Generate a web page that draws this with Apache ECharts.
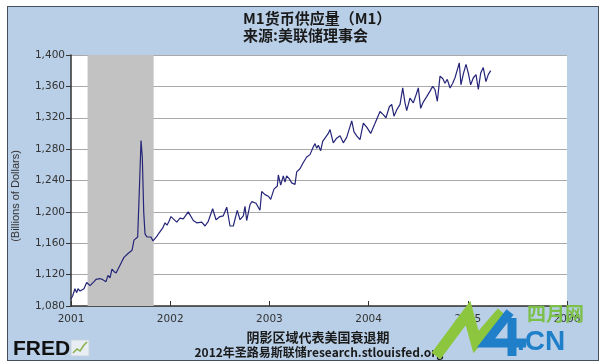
<!DOCTYPE html>
<html>
<head>
<meta charset="utf-8">
<script src="https://cdn.jsdelivr.net/npm/echarts@6/dist/echarts.min.js"></script>
<style>
html,body{margin:0;padding:0;background:#fff;}
#frame{position:absolute;left:7px;top:6px;width:590px;height:353px;background:#b9cfe7;border:1px solid #45505c;}
#chart{position:absolute;left:0;top:0;width:600px;height:364px;}
</style>
</head>
<body>
<div id="frame"></div>
<div id="chart"></div>
<script>
const years = [
2001.000,2001.017,2001.040,2001.057,2001.071,2001.091,2001.111,2001.131,2001.158,2001.171,
2001.192,2001.212,2001.232,2001.252,2001.272,2001.292,2001.313,2001.333,2001.353,2001.373,
2001.393,2001.413,2001.433,2001.454,2001.474,2001.494,2001.514,2001.534,2001.554,2001.575,
2001.595,2001.615,2001.635,2001.645,2001.655,2001.672,2001.691,2001.706,2001.719,2001.733,
2001.746,2001.766,2001.786,2001.806,2001.827,2001.847,2001.867,2001.887,2001.907,2001.927,
2001.948,2001.968,2001.988,2002.008,2002.028,
2002.066,2002.099,2002.132,2002.182,2002.233,2002.267,2002.318,2002.351,2002.384,2002.428,
2002.462,2002.502,2002.535,2002.570,2002.603,2002.636,2002.676,2002.704,2002.737,2002.754,
2002.771,2002.804,2002.822,2002.865,2002.905,2002.922,2002.956,2002.989,2003.013,2003.046,
2003.080,2003.090,2003.114,2003.140,2003.157,2003.174,2003.201,2003.225,2003.258,2003.275,
2003.308,2003.342,2003.376,2003.409,2003.443,2003.460,2003.477,2003.493,2003.517,2003.537,
2003.560,2003.577,2003.594,2003.611,2003.628,2003.644,2003.678,2003.712,2003.745,2003.779,
2003.830,2003.853,2003.880,2003.913,2003.947,2003.981,2004.021,2004.065,2004.082,2004.115,
2004.148,2004.175,2004.209,2004.233,2004.256,2004.283,2004.317,2004.344,2004.367,2004.384,
2004.417,2004.451,2004.478,2004.501,2004.525,2004.551,2004.586,2004.619,2004.646,2004.669,
2004.693,2004.720,2004.747,2004.770,2004.793,2004.821,2004.848,2004.871,2004.894,2004.914,
2004.931,2004.955,2004.982,2005.005,2005.029,2005.056,2005.083,2005.106,2005.130,2005.156,
2005.183,2005.206,2005.231
];
// M1 money stock, billions of dollars
const m1 = [
1089,1093,1102,1097,1102,1099,1100,1102,1110,1108,
1106,1106,1111,1114,1113,1115,1114,1116,1111,1119,
1116,1127,1124,1122,1124,1132,1137,1142,1140,1147,
1149,1151,1164,1162,1166,1168,1235,1291,1269,1200,
1172,1168,1166,1168,1163,1165,1169,1173,1175,1180,
1186,1183,1188,1194,1196,
1187,1192,1191,1200,1189,1186,1187,1182,1188,1204,
1190,1194,1195,1206,1182,1182,1202,1190,1195,1207,
1189,1209,1213,1211,1202,1226,1222,1220,1216,1229,
1233,1247,1234,1246,1238,1246,1242,1237,1235,1251,
1255,1263,1270,1273,1283,1287,1281,1285,1278,1290,
1294,1292,1300,1305,1296,1288,1294,1297,1288,1295,
1316,1302,1297,1292,1313,1308,1300,1313,1315,1328,
1324,1320,1334,1337,1322,1330,1337,1358,1339,1329,
1345,1339,1349,1358,1332,1340,1347,1354,1360,1356,
1341,1373,1370,1364,1369,1358,1364,1371,1381,1390,
1362,1376,1388,1377,1362,1371,1375,1356,1377,1384,
1366,1375,1380
];
// Recession (NBER): March 2001 – November 2001
const recessionStart = 2001.167;
const recessionEnd = 2001.833;
const yTicks = {min: 1080, max: 1400, step: 40};
const xTicks = {min: 2001, max: 2006, step: 1};

const titleLine1 = 'M1货币供应量（M1）';
const titleLine2 = '来源:美联储理事会';
const yName = '(Billions of Dollars)';
const footer1 = '阴影区域代表美国衰退期';
const footer2 = '2012年圣路易斯联储research.stlouisfed.org';

const cjk = '"Noto Sans CJK SC", sans-serif';
const chart = echarts.init(document.getElementById('chart'), null, {renderer: 'canvas'});
chart.setOption({
  animation: false,
  backgroundColor: 'transparent',
  grid: {left: 71, right: 33, top: 55, bottom: 58, show: true, backgroundColor: '#ffffff', borderWidth: 0},
  xAxis: {
    type: 'value', min: xTicks.min, max: xTicks.max, interval: xTicks.step,
    axisLine: {show: true, lineStyle: {color: '#333', width: 1.5}},
    axisTick: {show: true, inside: true, length: 5, lineStyle: {color: '#333'}},
    axisLabel: {formatter: v => String(v), color: '#333', fontFamily: '"DejaVu Sans"', fontSize: 10.5, margin: 8},
    splitLine: {show: false}
  },
  yAxis: {
    type: 'value', min: yTicks.min, max: yTicks.max, interval: yTicks.step,
    axisLine: {show: true, lineStyle: {color: '#333', width: 1.5}},
    axisTick: {show: true, inside: false, length: 5, lineStyle: {color: '#333'}},
    axisLabel: {color: '#333', fontFamily: '"DejaVu Sans"', fontSize: 10.5, margin: 6},
    splitLine: {show: true, lineStyle: {color: '#a9a9a9', width: 1}}
  },
  series: [{
    type: 'line',
    data: years.map((y, i) => [y, m1[i]]),
    showSymbol: false,
    symbol: 'none',
    lineStyle: {color: '#25257a', width: 1.2},
    markArea: {
      silent: true,
      itemStyle: {color: '#c2c2c2', opacity: 1},
      data: [[{xAxis: recessionStart}, {xAxis: recessionEnd}]]
    },
    z: 3
  }],
  graphic: [
    {type: 'text', left: 243, top: 11, style: {text: titleLine1, font: 'bold 15px ' + cjk, fill: '#1a1a1a'}},
    {type: 'text', left: 243, top: 28, style: {text: titleLine2, font: 'bold 15px ' + cjk, fill: '#1a1a1a'}},
    {type: 'text', x: 16, y: 196, rotation: Math.PI / 2,
      style: {text: yName, font: '11px "Liberation Sans"', fill: '#333', align: 'center', verticalAlign: 'middle'}},
    {type: 'text', x: 318, y: 337, style: {text: footer1, font: 'bold 13px ' + cjk, fill: '#1a1a1a', align: 'center', verticalAlign: 'middle'}},
    {type: 'text', x: 319, y: 352, style: {text: footer2, font: 'bold 12px ' + cjk, fill: '#1a1a1a', align: 'center', verticalAlign: 'middle'}},
    {type: 'text', x: 13, y: 349, style: {text: 'FRED', font: 'bold 21px "Liberation Sans"', fill: '#111', verticalAlign: 'middle'}},
    {type: 'rect', shape: {x: 71, y: 340, width: 18, height: 16}, style: {fill: '#e8eef4', stroke: '#c9d4de', lineWidth: 1}},
    {type: 'polyline', shape: {points: [[73, 353], [77, 349], [80, 351], [84, 345], [87, 342]]}, style: {stroke: '#8ab04a', lineWidth: 1.5, fill: null}},
    // watermark
    {type: 'polyline', z: 100, shape: {points: [[436, 356], [468, 313], [476, 342], [502, 312]]},
      style: {stroke: '#8cc63f', lineWidth: 11, fill: null, lineJoin: 'miter'}},
    {type: 'polyline', z: 100, shape: {points: [[510, 312], [486, 343], [526, 343]]},
      style: {stroke: '#1f7fc9', lineWidth: 9, fill: null}},
    {type: 'line', z: 100, shape: {x1: 512, y1: 318, x2: 512, y2: 356}, style: {stroke: '#1f7fc9', lineWidth: 9}},
    {type: 'text', z: 100, x: 527, y: 314, style: {text: '四月网', font: 'bold 19px ' + cjk, fill: '#7cc04a', verticalAlign: 'middle'}},
    {type: 'text', z: 100, x: 517, y: 342, style: {text: '.CN', font: 'bold 28px "Liberation Sans"', fill: '#1f7fc9', verticalAlign: 'middle'}}
  ]
});
</script>
</body>
</html>
